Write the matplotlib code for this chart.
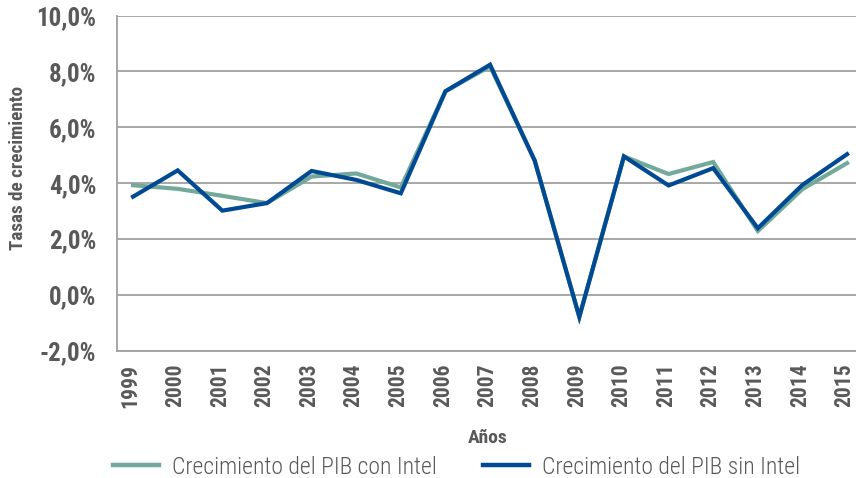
import os
import matplotlib
matplotlib.use("Agg")
import matplotlib.pyplot as plt
import matplotlib.transforms as mtrans
from matplotlib import font_manager as fm
from matplotlib.lines import Line2D

years = ["1999", "2000", "2001", "2002", "2003", "2004", "2005", "2006", "2007",
         "2008", "2009", "2010", "2011", "2012", "2013", "2014", "2015"]
con_intel = [3.93, 3.80, 3.55, 3.29, 4.24, 4.35, 3.85, 7.29, 8.18,
             4.81, -0.78, 4.96, 4.33, 4.76, 2.29, 3.79, 4.72]
sin_intel = [3.52, 4.46, 3.02, 3.29, 4.44, 4.12, 3.64, 7.29, 8.24,
             4.81, -0.78, 4.96, 3.92, 4.54, 2.39, 3.94, 5.04]
yticks = [-2, 0, 2, 4, 6, 8, 10]

GREEN = "#72a99b"
BLUE = "#004a94"
GRAY = "#595959"
GRID = "#a0a0a0"

# ---- font selection: prefer a condensed face ----
files = set(f.fname for f in fm.fontManager.ttflist)
try:
    files |= set(fm.findSystemFonts())
except Exception:
    pass
byname = {os.path.basename(p).lower(): p for p in files}


def pick(cands):
    for c in cands:
        if c in byname:
            return fm.FontProperties(fname=byname[c])
    return None

bold_fp = pick(["robotocondensed-bold.ttf", "liberationsansnarrow-bold.ttf",
                "dejavusanscondensed-bold.ttf", "opensans_condensed-bold.ttf"])
reg_fp = pick(["robotocondensed-light.ttf", "robotocondensed-regular.ttf",
               "liberationsansnarrow-regular.ttf", "dejavusanscondensed.ttf",
               "opensans_condensed-regular.ttf"])
if bold_fp is None:
    bold_fp = fm.FontProperties(family=["Liberation Sans", "DejaVu Sans"], weight="bold")
if reg_fp is None:
    reg_fp = fm.FontProperties(family=["Liberation Sans", "DejaVu Sans"])


def fp(base, size):
    p = base.copy()
    p.set_size(size)
    return p

fig = plt.figure(figsize=(8.56, 4.78), dpi=100)
ax = fig.add_axes([117/856, 1 - 351/478, (856 - 117)/856, (351 - 15.5)/478])

x = list(range(len(years)))
ax.plot(x, con_intel, color=GREEN, lw=3.0, solid_joinstyle='miter', zorder=3)
ax.plot(x, sin_intel, color=BLUE, lw=3.0, solid_joinstyle='miter', zorder=4)

ax.set_ylim(-2, 10)
ax.set_xlim(-0.36, 16.2)
ax.set_yticks(yticks)
ax.set_yticklabels([f"{v:.1f}%".replace(".", ",") for v in yticks])
ax.set_xticks(x)
ax.set_xticklabels(years, rotation=90)

ax.grid(axis='y', color=GRID, lw=1.3)
ax.set_axisbelow(True)
for s in ['top', 'right']:
    ax.spines[s].set_visible(False)
for s in ['left', 'bottom']:
    ax.spines[s].set_color(GRID)
    ax.spines[s].set_linewidth(1.3)
ax.tick_params(axis='y', length=0, pad=15, labelcolor=GRAY)
ax.tick_params(axis='x', length=0, pad=9, labelcolor=GRAY)
for lbl in ax.get_yticklabels():
    lbl.set_fontproperties(fp(bold_fp, 18))
shift = mtrans.ScaledTranslation(-2.5 / 100, 0, fig.dpi_scale_trans)
for lbl in ax.get_xticklabels():
    lbl.set_fontproperties(fp(bold_fp, 15.5))
    lbl.set_transform(lbl.get_transform() + shift)

ax.set_ylabel("Tasas de crecimiento", fontproperties=fp(bold_fp, 13.8), color=GRAY,
              va='center', ha='center')
ax.yaxis.set_label_coords(-0.134, 0.545)
ax.set_xlabel("Años", fontproperties=fp(bold_fp, 14), color=GRAY, va='center', ha='center')
ax.xaxis.set_label_coords(0.502, -0.259)

handles = [Line2D([], [], color=GREEN, lw=3.2), Line2D([], [], color=BLUE, lw=3.2)]
fs = 17
leg = fig.legend(handles, ["Crecimiento del PIB con Intel", "Crecimiento del PIB sin Intel"],
                 loc='center left', bbox_to_anchor=(113/856, 1 - 467/478), ncol=2, frameon=False,
                 prop=fp(reg_fp, fs), labelcolor=GRAY, handlelength=1.95,
                 columnspacing=1.95, handletextpad=0.55, borderpad=0, borderaxespad=0)

fig.savefig("out.png", dpi=100)
